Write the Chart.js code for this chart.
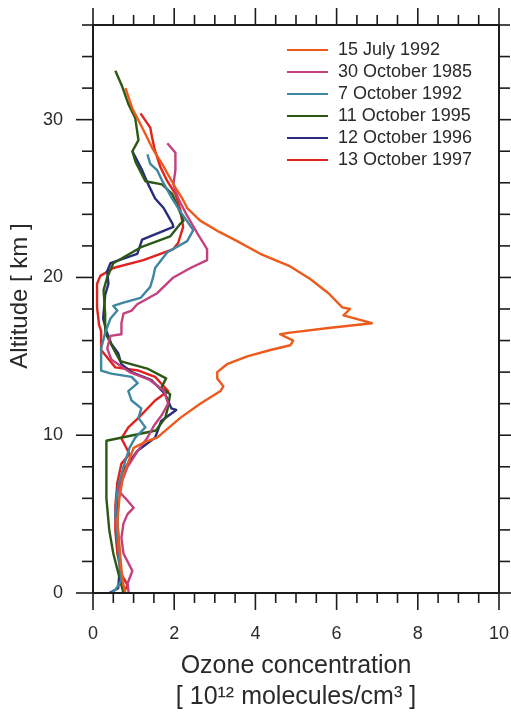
<!DOCTYPE html>
<html>
<head>
<meta charset="utf-8">
<script src="https://cdn.jsdelivr.net/npm/chart.js@4/dist/chart.umd.min.js"></script>
<style>
  html, body { margin: 0; padding: 0; background: #ffffff; }
  canvas { display: block; }
</style>
</head>
<body>
<canvas id="ozone" width="511" height="715"></canvas>
<script>
// Sounding dates shown in the legend
const seriesLabels = ['15 July 1992', '30 October 1985', '7 October 1992',
                      '11 October 1995', '12 October 1996', '13 October 1997'];

// Ozone concentration [10^12 molecules/cm3] and altitude [km] per sounding
const jul1992Ozone = [0.80,0.97,1.21,1.46,1.70,2.03,2.20,2.32,2.64,3.10,3.55,4.12,4.86,5.35,5.80,6.14,6.33,6.17,6.87,5.80,4.86,4.61,4.93,4.86,4.37,3.80,3.30,3.06,3.06,3.21,3.14,2.64,2.15,1.58,1.30,1.00,0.90,0.75,0.65,0.60,0.65,0.70,0.75,0.80];
const jul1992Alt   = [32.0,30.7,29.5,28.2,27.2,25.7,25.0,24.4,23.6,22.9,22.3,21.5,20.7,19.9,19.0,18.1,18.0,17.6,17.1,16.8,16.5,16.4,16.0,15.7,15.4,15.0,14.5,14.0,13.6,13.1,12.8,12.0,11.1,9.85,9.6,9.2,8.5,7.5,6.0,4.5,3.0,1.5,0.5,0];

const oct1985Ozone = [1.83,2.03,2.03,1.98,2.10,2.30,2.57,2.81,2.81,2.40,1.98,1.58,1.09,0.95,0.75,0.70,0.70,0.43,0.35,0.45,0.90,1.40,1.75,1.85,1.70,1.50,1.34,1.10,0.85,0.70,0.62,0.80,1.00,0.85,0.75,0.70,0.75,0.97,0.85,0.88];
const oct1985Alt   = [28.5,27.9,26.8,25.9,25.0,24.0,22.8,21.8,21.1,20.6,20.0,19.0,18.3,17.9,17.7,17.1,16.4,16.3,15.5,14.8,14.0,13.5,12.8,12.0,11.3,10.6,9.85,9.0,8.0,7.0,6.5,6.0,5.4,5.0,4.4,3.5,2.5,1.4,0.6,0];

const oct1992Ozone = [1.34,1.41,1.58,1.71,1.95,2.20,2.47,2.32,1.83,1.53,1.48,1.41,1.17,0.75,0.50,0.60,0.43,0.30,0.20,0.20,0.20,0.45,0.95,1.10,0.87,0.95,1.19,1.12,1.29,1.04,0.90,0.75,0.60,0.55,0.60,0.65,0.70,0.55,0.45];
const oct1992Alt   = [27.8,27.2,26.8,26.1,25.0,24.0,23.0,22.3,21.6,20.6,20.0,19.4,18.7,18.4,18.2,17.9,17.4,16.5,15.5,14.5,14.1,13.9,13.7,13.3,12.8,12.2,11.7,11.1,10.5,9.85,9.2,8.0,6.5,5.0,3.5,2.0,0.8,0.2,0];

const oct1995Ozone = [0.55,0.72,0.87,1.04,1.12,0.97,1.05,1.29,1.70,1.95,2.23,2.15,1.90,1.17,0.50,0.35,0.26,0.30,0.30,0.50,0.67,1.36,1.80,1.68,1.90,1.85,1.78,1.55,0.33,0.33,0.33,0.40,0.50,0.67,0.75];
const oct1995Alt   = [33.1,32.1,31.0,30.1,28.7,28.0,27.3,26.1,25.9,25.3,23.6,23.4,22.6,21.9,20.9,20.0,19.2,17.7,16.5,15.5,14.7,14.2,13.6,13.0,12.6,11.8,11.1,10.3,9.65,9.0,6.0,4.0,2.5,0.8,0];

const oct1996Ozone = [0.97,1.21,1.36,1.53,1.74,1.96,1.98,1.21,1.09,0.75,0.43,0.35,0.38,0.30,0.25,0.33,0.45,0.62,0.70,0.95,1.44,1.78,1.93,2.05,1.68,1.53,1.09,0.75,0.60,0.60,0.67,0.62,0.40];
const oct1996Alt   = [28.0,26.8,25.9,25.0,24.4,23.4,23.2,22.4,21.5,21.2,20.9,20.4,19.6,18.9,17.4,16.6,15.8,15.2,14.5,14.0,13.5,12.6,11.7,11.6,10.9,9.85,9.0,7.8,6.5,4.4,1.9,0.3,0];

const oct1997Ozone = [1.17,1.41,1.46,1.53,1.66,1.83,2.03,2.15,2.22,2.10,1.98,1.24,0.50,0.18,0.10,0.10,0.15,0.20,0.20,0.55,1.12,1.53,1.85,1.53,1.12,0.87,0.70,0.80,0.90,0.70,0.60,0.55,0.55,0.60,0.70,0.85,0.75];
const oct1997Alt   = [30.4,29.5,28.8,28.0,27.0,26.1,25.3,24.3,23.2,22.2,21.8,21.1,20.6,20.1,19.6,18.1,17.0,16.6,15.4,14.3,14.1,13.7,12.8,12.2,11.1,10.5,9.8,9.3,8.8,8.2,7.0,5.5,4.0,2.5,1.2,0.5,0];

// Line colours, one per sounding
const seriesColors = ['#ee5a1c', '#c4417e', '#3f86a2', '#2b5914', '#282c7a', '#e0231e'];

const profiles = [
  [jul1992Ozone, jul1992Alt], [oct1985Ozone, oct1985Alt], [oct1992Ozone, oct1992Alt],
  [oct1995Ozone, oct1995Alt], [oct1996Ozone, oct1996Alt], [oct1997Ozone, oct1997Alt]
];

function toPoints(xs, ys) {
  const n = Math.min(xs.length, ys.length);
  const pts = [];
  for (let i = 0; i < n; i++) pts.push({ x: xs[i], y: ys[i] });
  return pts;
}

const FONT = "'Liberation Sans', Arial, Helvetica, sans-serif";
const INK = '#1c1c1c';

// Keep the plot box at a fixed size: no extra room for overhanging tick labels
function noOverhang(scale) {
  scale.paddingLeft = 0;
  scale.paddingRight = 0;
  scale.paddingTop = 0;
  scale.paddingBottom = 0;
}

// Box frame with outward tick marks on all four sides, in-plot legend, vertical title
const frameDecor = {
  id: 'frameDecor',
  afterDraw(chart) {
    const { ctx, chartArea: a, scales: { x, y } } = chart;
    ctx.save();
    ctx.strokeStyle = INK;
    ctx.lineCap = 'butt';

    const seg = (x1, y1, x2, y2) => { ctx.beginPath(); ctx.moveTo(x1, y1); ctx.lineTo(x2, y2); ctx.stroke(); };

    ctx.lineWidth = 1.6;
    for (let k = 0; k <= 20; k++) {
      const v = k * 0.5;
      const px = x.getPixelForValue(v);
      const len = (k % 4 === 0) ? 17 : 10;
      seg(px, a.bottom, px, a.bottom + len);
      seg(px, a.top, px, a.top - len);
    }
    for (let k = 0; k <= 18; k++) {
      const v = k * 2;
      const py = y.getPixelForValue(v);
      const len = (v % 10 === 0) ? 17 : 11;
      seg(a.left - len, py, a.left, py);
      seg(a.right, py, a.right + len, py);
    }

    ctx.lineWidth = 2;
    ctx.strokeRect(a.left, a.top, a.right - a.left, a.bottom - a.top);

    // Legend
    ctx.font = '18px ' + FONT;
    ctx.textBaseline = 'middle';
    ctx.textAlign = 'left';
    chart.data.datasets.forEach((ds, i) => {
      const ly = 50 + i * 22;
      ctx.strokeStyle = ds.borderColor;
      ctx.lineWidth = 2;
      seg(287, ly, 328, ly);
      ctx.fillStyle = '#2a2a2a';
      ctx.fillText(ds.label, 338, ly);
    });

    // Vertical axis title
    ctx.translate(20, 296);
    ctx.rotate(-Math.PI / 2);
    ctx.font = '24px ' + FONT;
    ctx.textAlign = 'center';
    ctx.fillStyle = '#2a2a2a';
    ctx.fillText('Altitude [ km ]', 0, 0);
    ctx.restore();
  }
};

new Chart(document.getElementById('ozone'), {
  type: 'scatter',
  data: {
    datasets: profiles.map((p, i) => ({
      label: seriesLabels[i],
      data: toPoints(p[0], p[1]),
      showLine: true,
      borderColor: seriesColors[i],
      backgroundColor: seriesColors[i],
      borderWidth: 2.4,
      borderJoinStyle: 'round',
      pointRadius: 0,
      tension: 0
    }))
  },
  options: {
    responsive: false,
    animation: false,
    layout: { padding: { top: 25, right: 12, bottom: 0, left: 0 } },
    plugins: { legend: { display: false }, tooltip: { enabled: false } },
    scales: {
      x: {
        type: 'linear',
        min: 0, max: 10,
        grid: { display: false, drawTicks: false },
        border: { display: false },
        ticks: { stepSize: 2, padding: 30, maxRotation: 0, color: '#2a2a2a', font: { family: FONT, size: 18 } },
        title: {
          display: true,
          text: ['Ozone concentration', '[ 10\u00B9\u00B2 molecules/cm\u00B3 ]'],
          color: '#2a2a2a',
          font: { family: FONT, size: 25, lineHeight: 1.24 },
          padding: { top: 0, bottom: 2 }
        },
        afterFit(scale) { scale.height = 122; noOverhang(scale); }
      },
      y: {
        type: 'linear',
        min: 0, max: 36,
        grid: { display: false, drawTicks: false },
        border: { display: false },
        ticks: { stepSize: 10, includeBounds: false, padding: 30, color: '#2a2a2a', font: { family: FONT, size: 18 } },
        afterFit(scale) { scale.width = 93; noOverhang(scale); }
      }
    }
  },
  plugins: [frameDecor]
});
</script>
</body>
</html>
